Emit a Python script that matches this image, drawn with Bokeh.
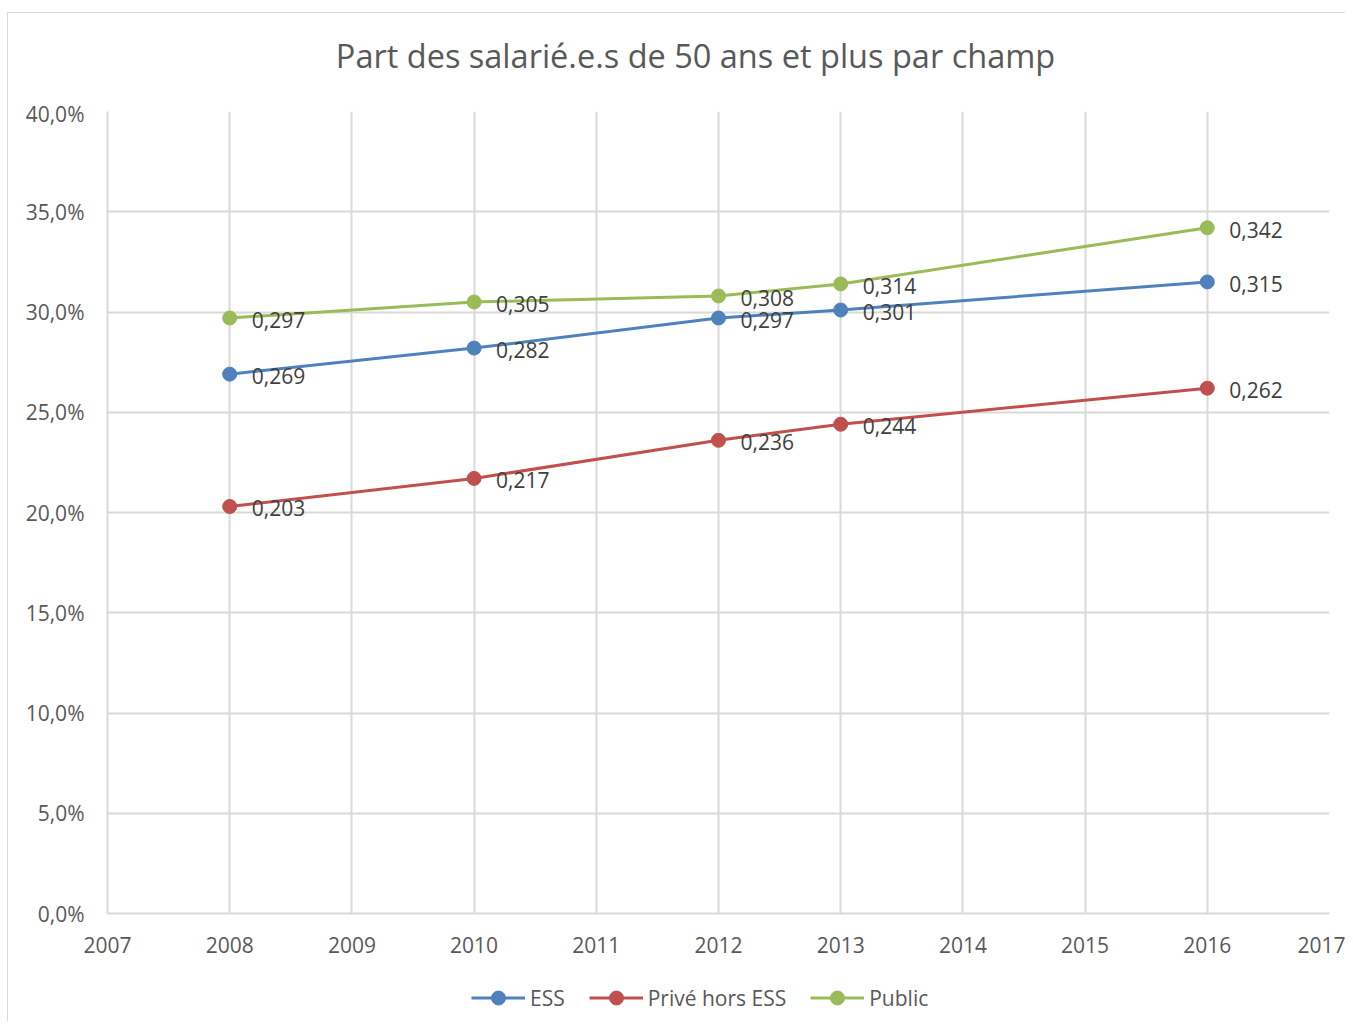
from bokeh.plotting import figure
from bokeh.layouts import column
from bokeh.models import (ColumnDataSource, FixedTicker, CustomJSTickFormatter, Legend, LegendItem,
                          Range1d, Label)
from bokeh.core.properties import value
from bokeh.embed import file_html
from bokeh.resources import INLINE

years = [2008, 2010, 2012, 2013, 2016]
ess = [0.269, 0.282, 0.297, 0.301, 0.315]
prive = [0.203, 0.217, 0.236, 0.244, 0.262]
public = [0.297, 0.305, 0.308, 0.314, 0.342]
series_names = ["ESS", "Privé hors ESS", "Public"]
series_colors = ["#4f81bd", "#c0504d", "#9bbb59"]
title_text = "Part des salarié.e.s de 50 ans et plus par champ"
x_ticks = list(range(2007, 2018))
y_ticks = [0.0, 0.05, 0.10, 0.15, 0.20, 0.25, 0.30, 0.35, 0.40]

FONT = "Open Sans"
GREY = "#595959"
GRID = "#d9d9d9"
W = 1337


def bare(height):
    f = figure(width=W, height=height, output_backend="svg", toolbar_location=None,
               x_axis_location=None, y_axis_location=None,
               x_range=Range1d(0, 1), y_range=Range1d(0, 1),
               min_border_left=0, min_border_right=0, min_border_top=0, min_border_bottom=0)
    f.outline_line_color = None
    f.grid.visible = False
    f.background_fill_color = "white"
    f.border_fill_color = "white"
    return f


# --- title strip (its frame is aligned with the chart frame by the column layout)
p0 = bare(86)
p0.add_layout(Label(x=588, y=44, x_units="screen", y_units="screen", text=title_text,
                    text_font=FONT, text_font_size="32.5px", text_color=GREY,
                    text_align="center", text_baseline="middle"))

# --- main chart
p = figure(frame_width=1222, frame_height=802, output_backend="svg", toolbar_location=None,
           x_range=Range1d(2007, 2017), y_range=Range1d(0, 0.40),
           min_border_left=99, min_border_right=16, min_border_top=12, min_border_bottom=50)
p.outline_line_color = None
p.background_fill_color = "white"
p.border_fill_color = "white"

p.xaxis.ticker = FixedTicker(ticks=x_ticks)
p.yaxis.ticker = FixedTicker(ticks=y_ticks)
p.yaxis.formatter = CustomJSTickFormatter(code="return (tick*100).toFixed(1).replace('.', ',') + '%';")
for ax in (p.xaxis, p.yaxis):
    ax.axis_line_color = GRID
    ax.axis_line_width = 2
    ax.major_tick_line_color = None
    ax.minor_tick_line_color = None
    ax.major_label_text_font = FONT
    ax.major_label_text_font_size = "21px"
    ax.major_label_text_color = GREY
p.yaxis.major_label_standoff = 17
p.xaxis.major_label_standoff = 17

p.xgrid.ticker = FixedTicker(ticks=x_ticks)
p.ygrid.ticker = FixedTicker(ticks=y_ticks)
for g in (p.xgrid, p.ygrid):
    g.grid_line_color = GRID
    g.grid_line_width = 2

# --- legend strip
p2 = bare(58)
items = []
for name, vals, col in zip(series_names, [ess, prive, public], series_colors):
    src = ColumnDataSource(dict(x=years, y=vals,
                                lab=[f"{v:.3f}".replace(".", ",") for v in vals]))
    p.line("x", "y", source=src, line_color=col, line_width=3)
    p.scatter("x", "y", source=src, size=14, fill_color=col, line_color=col)
    p.text("x", "y", text="lab", source=src, x_offset=22, y_offset=2,
           text_font=value(FONT), text_font_size="21px", text_color="#404040",
           text_baseline="middle", text_align="left")
    # legend swatches: same series, outside the strip's (0..1) view
    l1 = p2.line("x", "y", source=src, line_color=col, line_width=3)
    l2 = p2.scatter("x", "y", source=src, size=14, fill_color=col, line_color=col)
    items.append(LegendItem(label=name, renderers=[l1, l2]))

legend = Legend(items=items, orientation="horizontal", location=(364, 6),
                label_text_font=FONT, label_text_font_size="21px", label_text_color=GREY,
                glyph_width=54, glyph_height=35, label_standoff=5, spacing=24,
                padding=0, margin=0, border_line_color=None, background_fill_alpha=0)
p2.add_layout(legend, "center")

layout = column(p0, p, p2, spacing=0,
                styles={"border-top": "1px solid #d9d9d9", "border-left": "1px solid #d9d9d9",
                        "margin-left": "7px", "margin-top": "12px"})

open("out.html", "w").write(file_html(layout, INLINE))
